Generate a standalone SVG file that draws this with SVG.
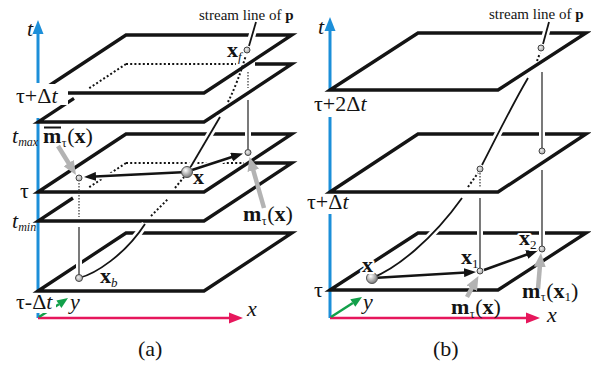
<svg xmlns="http://www.w3.org/2000/svg" width="591" height="368" viewBox="0 0 591 368">
<style>
text{font-family:"Liberation Serif","DejaVu Serif",serif;font-size:22px;fill:#141414}
.b{font-weight:bold}.i{font-style:italic}.s{font-size:12px}.s12{font-size:13px}
.hl{stroke:#fff;stroke-width:4;paint-order:stroke;stroke-linejoin:round}
.pl{fill:none;stroke:#141414;stroke-width:3.3;stroke-linejoin:miter}
.dot{fill:none;stroke:#141414;stroke-width:2;stroke-dasharray:2 2.2}
.thin{fill:none;stroke:#333;stroke-width:1.3}
.tdot{fill:none;stroke:#333;stroke-width:1.2;stroke-dasharray:1.5 1.5}
.halo{fill:none;stroke:#fff;stroke-width:7}
.sl{fill:none;stroke:#141414;stroke-width:1.8}
.arr{fill:none;stroke:#141414;stroke-width:2.6;marker-end:url(#ah)}
.garr{fill:none;stroke:#b3b3b3;stroke-width:4.5;marker-end:url(#gh)}
.pt{fill:url(#ptg);stroke:#444;stroke-width:1}
.blue{stroke:#1c8fd9;stroke-width:3;fill:none}
.red{stroke:#e6175c;stroke-width:2.6;fill:none}
.green{stroke:#12a04a;stroke-width:2.5;fill:none}
</style>
<defs>
<marker id="ah" viewBox="0 0 12 9" refX="6" refY="4.5" markerWidth="12" markerHeight="9" markerUnits="userSpaceOnUse" orient="auto"><path d="M0,0 L12,4.5 L0,9 Z" fill="#141414"/></marker>
<marker id="gh" viewBox="0 0 14 12" refX="7" refY="6" markerWidth="14" markerHeight="12" markerUnits="userSpaceOnUse" orient="auto"><path d="M0,0 L14,6 L0,12 Z" fill="#b3b3b3"/></marker>
<radialGradient id="ball" cx="0.38" cy="0.35" r="0.7"><stop offset="0" stop-color="#fff"/><stop offset="0.55" stop-color="#b0b0b0"/><stop offset="1" stop-color="#707070"/></radialGradient>
<radialGradient id="ptg" cx="0.4" cy="0.4" r="0.7"><stop offset="0" stop-color="#eee"/><stop offset="1" stop-color="#999"/></radialGradient>
</defs>

<!-- ===== panel (a) ===== -->
<g id="axes-a">
<path class="blue" d="M38,318 L38,313 M38,292 L38,118 M38,83 L38,33"/>
<polygon points="38,20 32.5,34 43.5,34" fill="#1c8fd9"/>
<path class="red" d="M38,318 L231,318"/>
<polygon points="243,318 229,312.5 229,323.5" fill="#e6175c"/>
<path class="green" d="M39,317 L58.9,304.2"/>
<polygon points="68,298 61.4,307.9 56.4,300.5" fill="#12a04a"/>
</g>

<g id="planes-a">
<path class="pl" d="M38,93 L126,35 L292,35 L204,93 Z"/>
<path class="pl" d="M255,64 L292,64 L204,122 L38,122 L74,98.3"/>
<path class="dot" d="M126,64 L236,64 M126,64 L88,89"/>
<path class="pl" d="M38,192 L126,134 L292,134 L204,192 Z"/>
<path class="pl" d="M252,163 L292,163 L204,221 L38,221 L73,198"/>
<path class="dot" d="M126,163 L244,163 M126,163 L88,188"/>
<path class="pl" d="M38,291 L126,233 L292,233 L204,291 Z"/>
</g>

<g id="streamline-a">
<path class="halo" d="M79,278 C95,274 125,255 145,224"/>
<path class="sl" d="M79,278 C95,274 125,255 145,224"/>
<path class="dot" d="M151,216 L168,199 M175,188 L184,177"/>
<path class="halo" d="M190,168 L220,117"/>
<path class="sl" d="M190,168 L220,117"/>
<path class="dot" d="M228,102 Q238,82 246,55"/>
<path class="halo" d="M249,46 L256,22"/>
<path class="sl" d="M249,46 L256,22"/>
</g>

<g id="verticals-a">
<path class="tdot" d="M79,183 L79,217 M248,72 L248,88"/>
<path class="halo" d="M79,227 L79,275 M248,100 L248,149" style="stroke-width:6"/>
<path class="thin" d="M79,227 L79,275 M248,100 L248,149"/>
</g>

<rect x="14" y="84" width="54" height="21" fill="#fff"/>
<rect x="14" y="293" width="42" height="20" fill="#fff"/>

<g id="connectors-a">
<path class="halo" d="M182,172.3 L90,176.7 M192,170 L237.3,155.3" style="stroke-width:6"/>
<path class="arr" d="M182,172.3 L90,176.7"/>
<path class="arr" d="M192,170 L237.3,155.3"/>
<path class="garr" d="M58,146 L72.3,169"/>
<path class="garr" d="M264,208 L251.4,163.7"/>
</g>

<g id="points-a">
<circle id="pa-xf" class="pt" cx="247" cy="50" r="3"/>
<circle id="pa-mt" class="pt" cx="248" cy="152.5" r="3"/>
<circle id="pa-mbar" class="pt" cx="79" cy="178" r="3"/>
<circle id="pa-xb" class="pt" cx="79" cy="278" r="3.5"/>
<circle id="pa-x" cx="187" cy="172" r="5.5" fill="url(#ball)" stroke="#555" stroke-width="1"/>
</g>

<g id="labels-a">
<text class="i" x="27" y="36">t</text>
<text x="16" y="103">τ+Δ<tspan class="i">t</tspan></text>
<text class="i" x="12" y="143">t<tspan class="s" dy="3">max</tspan></text>
<text x="43" y="143"><tspan class="b">m</tspan><tspan class="s" dy="4" dx="0.5">τ</tspan><tspan dy="-4" dx="0.5">(</tspan><tspan class="b">x</tspan>)</text>
<path d="M44,127.5 L61,127.5" stroke="#141414" stroke-width="2"/>
<text x="20" y="198">τ</text>
<text class="i" x="12" y="228">t<tspan class="s" dy="3">min</tspan></text>
<text class="b" x="193" y="184">x</text>
<text x="100" y="283"><tspan class="b">x</tspan><tspan class="i s12" dy="4">b</tspan></text>
<text x="16" y="309">τ-Δ<tspan class="i">t</tspan></text>
<text class="i" x="70" y="309">y</text>
<text class="i" x="247" y="316">x</text>
<text x="243" y="221"><tspan class="b">m</tspan><tspan class="s" dy="4" dx="0.5">τ</tspan><tspan dy="-4" dx="0.5">(</tspan><tspan class="b">x</tspan>)</text>
<text x="227" y="57"><tspan class="b">x</tspan><tspan class="i s12" dy="4">f</tspan></text>
<text x="199" y="20" style="font-size:15px">stream line of <tspan class="b">p</tspan></text>
<text x="138" y="356">(a)</text>
</g>

<!-- ===== panel (b) ===== -->
<g id="axes-b">
<path class="blue" d="M330,318 L330,214 M330,192 L330,117 M330,90 L330,30"/>
<polygon points="330,17 324.5,31 335.5,31" fill="#1c8fd9"/>
<path class="red" d="M330,318 L528,318"/>
<polygon points="540,318 526,312.5 526,323.5" fill="#e6175c"/>
<path class="green" d="M331,317 L352.8,303"/>
<polygon points="362,297 355.3,306.8 350.3,299.2" fill="#12a04a"/>
</g>

<g id="planes-b">
<path class="pl" d="M330,90 L418,33 L586,33 L498,90 Z"/>
<path class="pl" d="M330,192 L418,134 L586,134 L498,192 Z"/>
<path class="pl" d="M330,290 L418,233 L586,233 L498,290 Z"/>
</g>

<g id="streamline-b">
<path class="halo" d="M372,278 C397,268 432,240 462,198"/>
<path class="sl" d="M372,278 C397,268 432,240 462,198"/>
<path class="dot" d="M468,187 L478,173"/>
<path class="halo" d="M482,165 C495,140 512,105 528,78"/>
<path class="sl" d="M482,165 C495,140 512,105 528,78"/>
<path class="dot" d="M537,61 L540,53"/>
<path class="halo" d="M543,44 L549,22"/>
<path class="sl" d="M543,44 L549,22"/>
</g>

<g id="verticals-b">
<path class="tdot" d="M480,173 L480,187"/>
<path class="halo" d="M480,198 L480,268 M542,72 L542,148 M542,170 L542,246" style="stroke-width:6"/>
<path class="thin" d="M480,198 L480,268 M542,72 L542,148 M542,170 L542,246"/>
</g>

<rect x="306" y="93" width="66" height="24" fill="#fff"/>
<rect x="306" y="194" width="54" height="20" fill="#fff"/>

<g id="connectors-b">
<path class="arr" d="M377.5,277.7 L470,272.3"/>
<path class="arr" d="M484,270 L532.4,252.5"/>
<path class="garr" d="M467,297 L475.1,282.1"/>
<path class="garr" d="M538,289 L540.4,260"/>
</g>

<g id="points-b">
<circle id="pb-top" class="pt" cx="541" cy="48" r="3"/>
<circle id="pb-mid1" class="pt" cx="480" cy="169" r="3"/>
<circle id="pb-mid2" class="pt" cx="542" cy="151" r="3"/>
<circle id="pb-x1" class="pt" cx="480" cy="271" r="3"/>
<circle id="pb-x2" class="pt" cx="542" cy="249" r="3"/>
<circle id="pb-x" cx="372" cy="278" r="5.5" fill="url(#ball)" stroke="#555" stroke-width="1"/>
</g>

<g id="labels-b">
<text class="i" x="318" y="34">t</text>
<text x="314" y="111">τ+2Δ<tspan class="i">t</tspan></text>
<text x="307" y="209">τ+Δ<tspan class="i">t</tspan></text>
<text x="314" y="297">τ</text>
<text class="b hl" x="362" y="272">x</text>
<text x="461" y="264"><tspan class="b">x</tspan><tspan class="s12" dy="4">1</tspan></text>
<text class="hl" x="519" y="245"><tspan class="b">x</tspan><tspan class="s12" dy="4">2</tspan></text>
<text x="451" y="314"><tspan class="b">m</tspan><tspan class="s" dy="4" dx="0.5">τ</tspan><tspan dy="-4" dx="0.5">(</tspan><tspan class="b">x</tspan>)</text>
<text x="522" y="298"><tspan class="b">m</tspan><tspan class="s" dy="3" dx="0.5">τ</tspan><tspan dy="-3" dx="0.5">(</tspan><tspan class="b">x</tspan><tspan class="s12" dy="3">1</tspan><tspan dy="-3">)</tspan></text>
<text class="i" x="547" y="322">x</text>
<text class="i" x="363" y="309">y</text>
<text x="489" y="19" style="font-size:15px">stream line of <tspan class="b">p</tspan></text>
<text x="433" y="356">(b)</text>
</g>
</svg>
